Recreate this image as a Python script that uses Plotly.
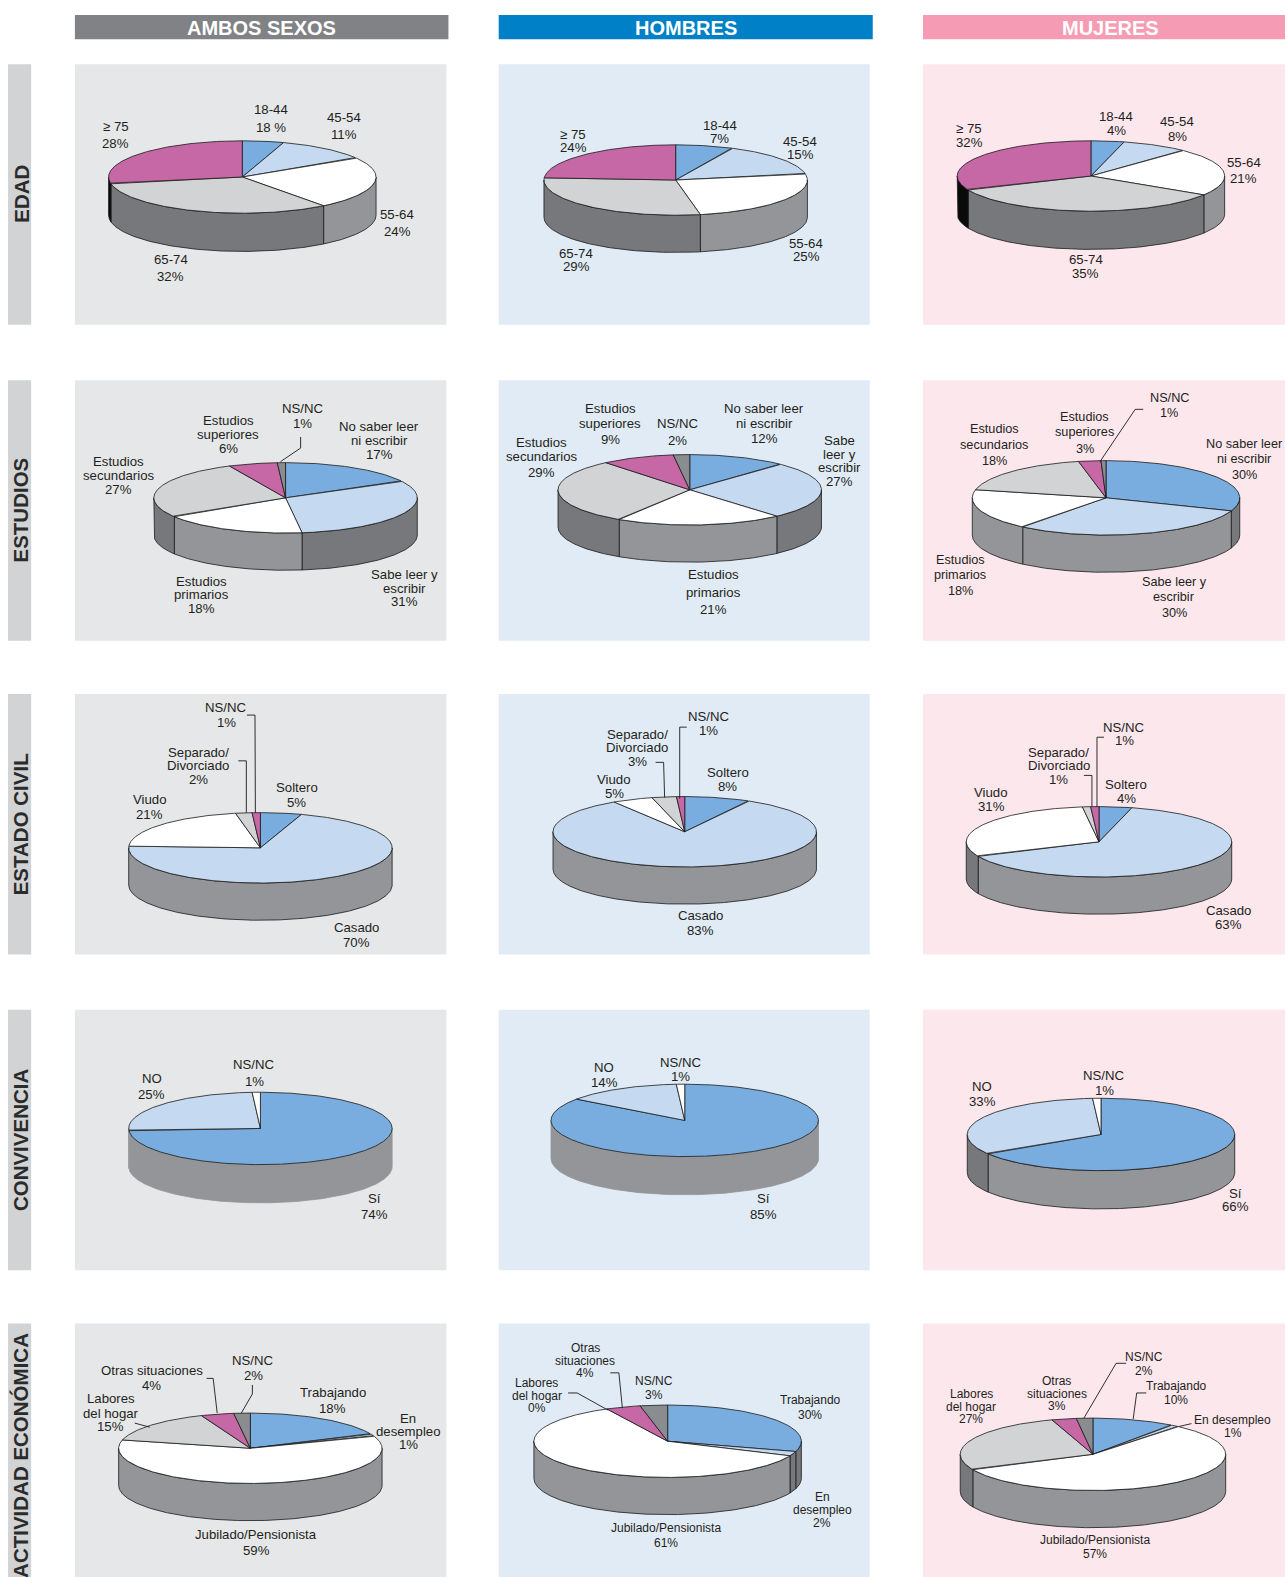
import math
import plotly.graph_objects as go

# ---------- data ----------
COLUMNS = ["AMBOS SEXOS", "HOMBRES", "MUJERES"]
ROWS = ["EDAD", "ESTUDIOS", "ESTADO CIVIL", "CONVIVENCIA", "ACTIVIDAD ECONÓMICA"]

# printed percentages
edad_ambos = [18, 11, 24, 32, 28]
edad_hombres = [7, 15, 25, 29, 24]
edad_mujeres = [4, 8, 21, 35, 32]
estudios_ambos = [17, 31, 18, 27, 6, 1]
estudios_hombres = [12, 27, 21, 29, 9, 2]
estudios_mujeres = [30, 30, 18, 18, 3, 1]
civil_ambos = [5, 70, 21, 2, 1]
civil_hombres = [8, 83, 5, 3, 1]
civil_mujeres = [4, 63, 31, 1, 1]
conv_ambos = [74, 25, 1]
conv_hombres = [85, 14, 1]
conv_mujeres = [66, 33, 1]
act_ambos = [18, 1, 59, 15, 4, 2]
act_hombres = [30, 2, 61, 0, 4, 3]
act_mujeres = [10, 1, 57, 27, 3, 2]

DRAWN = {
    (0, 0): [5, 11, 23.6, 32.4, 28],
    (0, 2): [4, 8, 22, 34.5, 31.5],
    (1, 1): [12, 26.5, 20.5, 30, 9, 2],
    (1, 2): [30.7, 30, 17.8, 18.2, 2.7, 0.6],
    (2, 2): [4, 64.2, 29.8, 1, 1],
    (4, 1): [29.6, 2, 60.9, 0, 4.2, 3.3],
}

edad_labels = ["18-44", "45-54", "55-64", "65-74", "≥ 75"]
estudios_a = ["No saber leer\nni escribir", "Sabe leer y\nescribir", "Estudios\nprimarios",
              "Estudios\nsecundarios", "Estudios\nsuperiores", "NS/NC"]
estudios_b = ["No saber leer\nni escribir", "Sabe\nleer y\nescribir", "Estudios\nprimarios",
              "Estudios\nsecundarios", "Estudios\nsuperiores", "NS/NC"]
civil_labels = ["Soltero", "Casado", "Viudo", "Separado/\nDivorciado", "NS/NC"]
conv_labels = ["Sí", "NO", "NS/NC"]
act_a = ["Trabajando", "En\ndesempleo", "Jubilado/Pensionista", "Labores\ndel hogar",
         "Otras situaciones", "NS/NC"]
act_b = ["Trabajando", "En\ndesempleo", "Jubilado/Pensionista", "Labores\ndel hogar",
         "Otras\nsituaciones", "NS/NC"]
act_c = ["Trabajando", "En desempleo", "Jubilado/Pensionista", "Labores\ndel hogar",
         "Otras\nsituaciones", "NS/NC"]

VALUES = [[edad_ambos, edad_hombres, edad_mujeres],
          [estudios_ambos, estudios_hombres, estudios_mujeres],
          [civil_ambos, civil_hombres, civil_mujeres],
          [conv_ambos, conv_hombres, conv_mujeres],
          [act_ambos, act_hombres, act_mujeres]]
LABELS = [[edad_labels] * 3,
          [estudios_a, estudios_b, estudios_a],
          [civil_labels] * 3,
          [conv_labels] * 3,
          [act_a, act_b, act_c]]

# ---------- layout (in reference pixels scaled to a 1278 x 1568 working grid) ----------
GW, GH = 1278.0, 1568.0
COL_X = [(74.5, 444), (496, 865), (918, 1278)]
HEAD_X = [(74.5, 446), (496, 868), (918, 1278)]
HEAD_CX = [260, 682, 1104]
ROW_Y = [(64, 323), (378, 637), (690, 949), (1004, 1263), (1316, 1568)]
ROW_CY = [193, 507, 820, 1133, 1447]
PANEL_BG = ["#E6E7E8", "#E1EBF5", "#FCE7ED"]
HEAD_BG = ["#808285", "#0080C6", "#F59BB3"]
TEXT_SIZE = {(1, 2): 12.7, (4, 1): 12, (4, 2): 12}

# cx, cy, rx, ry, depth
GEOM = [[(241, 176, 133, 36, 38), (672, 179, 131, 35, 37), (1085, 175, 133, 35, 38)],
        [(284, 495, 131, 35, 37), (686, 487, 131, 35, 37), (1100, 495, 133, 37, 37)],
        [(259, 843, 131, 35, 37), (681, 827, 131, 35, 37), (1093, 837, 132, 35, 37)],
        [(259, 1122, 131, 36, 38), (681, 1114, 133, 36, 38), (1095, 1128, 133, 36, 38)],
        [(249, 1440, 131, 35, 37), (664, 1433, 133, 36, 37), (1087, 1446, 132, 36, 37)]]

BLUE, LIGHT, WHITE, GRAY, MAG, DARK = "#79ADDF", "#C5DAF0", "#FFFFFF", "#D1D3D4", "#C667A6", "#8B8C8F"
TOPS = {5: [BLUE, LIGHT, WHITE, GRAY, MAG], 6: [BLUE, LIGHT, WHITE, GRAY, MAG, DARK], 3: [BLUE, LIGHT, WHITE]}
S_L, S_D, S_K = "#939598", "#77787B", "#0A0A0A"
SIDE_DEFAULT = {BLUE: S_D, LIGHT: S_D, WHITE: S_L, GRAY: S_D, MAG: S_K, DARK: S_D}
SIDE_OVERRIDE = {(1, 2): {LIGHT: S_L}, (2, 0): {LIGHT: S_L, WHITE: S_D}, (2, 1): {LIGHT: S_L, WHITE: S_D},
                 (2, 2): {LIGHT: S_L, WHITE: S_D}, (3, 0): {BLUE: S_L, LIGHT: S_L}, (3, 1): {BLUE: S_L},
                 (3, 2): {BLUE: S_L}}
SOFT_EDGE = {(3, 0), (3, 1)}

# label anchor: x, then y of each text line
LABEL_POS = [
    [[(270, [109, 127]), (342, [117, 134]), (395, [213, 230]), (170, [258, 275]), (115, [126, 143])],
     [(716, [125, 138]), (796, [141, 154]), (802, [242, 255]), (573, [252, 265]), (570, [134, 147])],
     [(1110, [116, 130]), (1171, [121, 136]), (1237, [162, 177]), (1080, [258, 272]), (964, [128, 142])]],
    [[(377, [424, 438, 452]), (402, [571, 585, 598]), (200, [578, 591, 605]), (118, [459, 473, 487]),
      (227, [418, 432, 446]), (301, [406, 421])],
     [(760, [406, 421, 436]), (835, [438, 452, 465, 479]), (710, [571, 589, 606]), (539, [440, 454, 470]),
      (607, [406, 421, 437]), (674, [421, 438])],
     [(1238, [441, 456, 472]), (1168, [579, 594, 610]), (955, [557, 572, 588]), (989, [427, 442, 458]),
      (1079, [415, 430, 446]), (1163, [396, 411])]],
    [[(295, [783, 798]), (355, [922, 937]), (149, [795, 810]), (197, [748, 761, 775]), (225, [703, 718])],
     [(724, [768, 782]), (697, [910, 925]), (611, [775, 789]), (634, [730, 743, 757]), (705, [712, 726])],
     [(1120, [780, 794]), (1222, [905, 919]), (986, [788, 802]), (1053, [748, 761, 775]), (1118, [723, 736])]],
    [[(372, [1192, 1208]), (151, [1072, 1088]), (253, [1058, 1075])],
     [(759, [1192, 1208]), (601, [1061, 1076]), (677, [1056, 1070])],
     [(1229, [1187, 1200]), (977, [1080, 1095]), (1098, [1069, 1084])]],
    [[(331, [1385, 1400]), (406, [1410, 1423, 1436]), (255, [1526, 1542]), (110, [1391, 1405, 1418]),
      (151, [1363, 1378]), (252, [1353, 1368])],
     [(806, [1392, 1407]), (818, [1488, 1501, 1514]), (662, [1519, 1534]), (534, [1375, 1388, 1400]),
      (582, [1340, 1353, 1365]), (650, [1373, 1387])],
     [(1170, [1378, 1392]), (1226, [1412, 1425]), (1089, [1531, 1545]), (966, [1386, 1399, 1411]),
      (1051, [1373, 1386, 1398]), (1138, [1349, 1363])]],
]

LEADERS = {
    (1, 0): [[(279, 459), (299, 445.5), (299, 434.5)]],
    (1, 2): [[(1094, 459), (1129, 407), (1137, 407)]],
    (2, 0): [[(245.6, 711), (253.6, 711), (254, 808)], [(237, 756.5), (245, 756.5), (245, 808)]],
    (2, 1): [[(683, 723), (676, 723), (676, 794)], [(652, 758), (660, 758), (661, 793)]],
    (2, 2): [[(1098, 733), (1091, 733), (1091, 802)], [(1078, 771), (1086, 771), (1086, 802)]],
    (4, 0): [[(240, 1405), (251, 1386), (251, 1377)], [(205.5, 1370.5), (212, 1370.5), (216, 1405)],
             [(134, 1415), (149, 1419)]],
    (4, 1): [[(565, 1385), (574, 1385), (604.5, 1402)], [(607, 1365), (615.5, 1365), (619, 1400)]],
    (4, 2): [[(1078, 1410), (1110, 1355.5), (1120, 1355.5)], [(1127, 1411), (1130.5, 1385), (1140, 1385)],
             [(1172, 1418.5), (1185, 1415.5)]],
}

FONT = "Liberation Sans, Arial, sans-serif"
LINE = "#1A1A1A"
traces, shapes, annotations, axes = [], [], [], {}


def rect(x0, x1, y0, y1, color):
    shapes.append(dict(type="rect", xref="paper", yref="paper", layer="below", line_width=0, fillcolor=color,
                       x0=x0 / GW, x1=x1 / GW, y0=1 - y0 / GH, y1=1 - y1 / GH))


def arc(g, a0, a1, dy=0):
    cx, cy, rx, ry, _ = g
    n = max(2, int(abs(a1 - a0) * 2) + 1)
    xs, ys = [], []
    for i in range(n):
        a = math.radians(a0 + (a1 - a0) * i / (n - 1))
        xs.append(cx + rx * math.sin(a))
        ys.append(cy - ry * math.cos(a) + dy)
    return xs, ys


for c, (label, (x0, x1)) in enumerate(zip(COLUMNS, HEAD_X)):
    rect(x0, x1, 15, 39, HEAD_BG[c])
    annotations.append(dict(text="<b>%s</b>" % label, xref="paper", yref="paper", x=HEAD_CX[c] / GW,
                            y=1 - 27.5 / GH, showarrow=False, xanchor="center", yanchor="middle",
                            font=dict(family=FONT, size=20, color="white")))

for r, label in enumerate(ROWS):
    rect(8, 31, ROW_Y[r][0], ROW_Y[r][1], "#D1D3D4")
    annotations.append(dict(text="<b>%s</b>" % label, xref="paper", yref="paper", x=20.5 / GW,
                            y=1 - ROW_CY[r] / GH, showarrow=False, textangle=-90, xanchor="center",
                            yanchor="middle", font=dict(family=FONT, size=20.5, color="#2B2B2B")))

idx = 0
for r in range(5):
    for c in range(3):
        idx += 1
        rect(COL_X[c][0], COL_X[c][1], ROW_Y[r][0], ROW_Y[r][1], PANEL_BG[c])
        sfx = "" if idx == 1 else str(idx)
        axes["xaxis" + sfx] = dict(domain=[COL_X[c][0] / GW, COL_X[c][1] / GW], range=list(COL_X[c]),
                                   visible=False, fixedrange=True, anchor="y" + sfx)
        axes["yaxis" + sfx] = dict(domain=[1 - ROW_Y[r][1] / GH, 1 - ROW_Y[r][0] / GH],
                                   range=[ROW_Y[r][1], ROW_Y[r][0]], visible=False, fixedrange=True,
                                   anchor="x" + sfx)
        xa, ya = "x" + sfx, "y" + sfx
        g = GEOM[r][c]
        printed = VALUES[r][c]
        vals = DRAWN.get((r, c), printed)
        total = float(sum(vals))
        tops = TOPS[len(vals)]
        sidemap = dict(SIDE_DEFAULT)
        sidemap.update(SIDE_OVERRIDE.get((r, c), {}))

        def poly(xs, ys, fill, edge=LINE):
            traces.append(go.Scatter(x=xs, y=ys, xaxis=xa, yaxis=ya, mode="lines", fill="toself", fillcolor=fill,
                                     line=dict(color=edge, width=0.8), hoverinfo="skip", showlegend=False))

        angles, acc = [], 0.0
        for v in vals:
            angles.append((acc / total * 360, (acc + v) / total * 360))
            acc += v
        # side walls (front half of the disc only)
        for (a0, a1), col in zip(angles, tops):
            s0, s1 = max(a0, 90), min(a1, 270)
            if s1 > s0:
                tx, ty = arc(g, s0, s1)
                bx, by = arc(g, s1, s0, g[4])
                fill = sidemap[col]
                poly(tx + bx + tx[:1], ty + by + ty[:1], fill, fill if (r, c) in SOFT_EDGE else LINE)
        # top faces
        for (a0, a1), col in zip(angles, tops):
            if a1 > a0:
                tx, ty = arc(g, a0, a1)
                poly([g[0]] + tx + [g[0]], [g[1]] + ty + [g[1]], col)
        # leaders
        for pts in LEADERS.get((r, c), []):
            traces.append(go.Scatter(x=[p[0] for p in pts], y=[p[1] for p in pts], xaxis=xa, yaxis=ya, mode="lines",
                                     line=dict(color=LINE, width=0.9), hoverinfo="skip", showlegend=False))
        # labels
        for i, (text, v) in enumerate(zip(LABELS[r][c], printed)):
            pct = "18 %" if (r, c, i) == (0, 0, 0) else "%d%%" % v
            lines = text.split("\n") + [pct]
            x, ys = LABEL_POS[r][c][i]
            for line, y in zip(lines, ys):
                annotations.append(dict(text=line, x=x, y=y, xref=xa, yref=ya, showarrow=False, xanchor="center",
                                        yanchor="middle",
                                        font=dict(family=FONT, size=TEXT_SIZE.get((r, c), 13.2), color="#231F20")))

fig = go.Figure(traces)
fig.update_layout(width=1285, height=1577, margin=dict(l=0, r=0, t=0, b=0), paper_bgcolor="white",
                  plot_bgcolor="rgba(0,0,0,0)", showlegend=False, shapes=shapes, annotations=annotations, **axes)
fig.write_html("out.html", post_script="document.body.style.margin='0';", config={"displayModeBar": False})
